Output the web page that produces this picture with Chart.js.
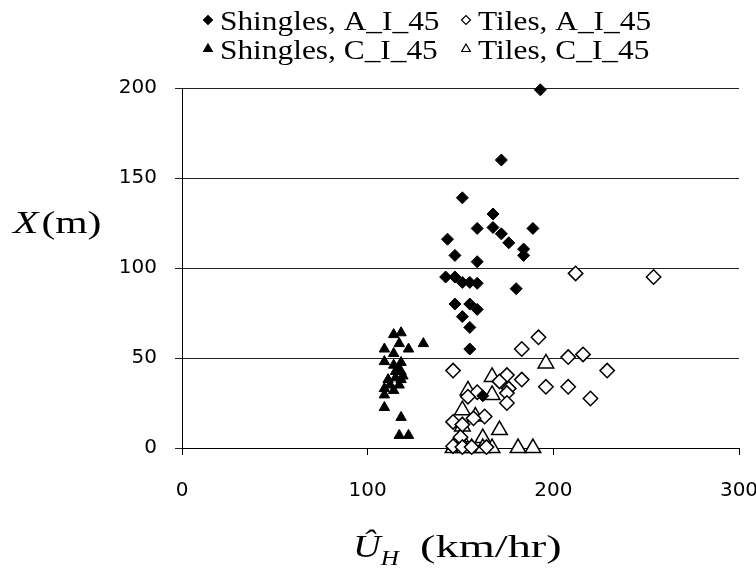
<!DOCTYPE html>
<html>
<head>
<meta charset="utf-8">
<script src="https://cdn.jsdelivr.net/npm/chart.js@4.4.1/dist/chart.umd.min.js"></script>
<style>
  html, body { margin:0; padding:0; background:#fff; }
  #wrap { width:756px; height:568px; }
</style>
</head>
<body>
<div id="wrap"><canvas id="c" width="756" height="568"></canvas></div>
<script>
/* ---- data (U_H in km/hr, X in m) ---- */
const xTicks = [0, 100, 200, 300];
const yTicks = [0, 50, 100, 150, 200];

// Shingles, A_I_45 (filled diamonds)
const shinglesA_u = [193, 172, 151, 167.5, 159, 167.5, 172, 189, 143, 176, 184, 184, 147, 159, 142, 147, 151, 155, 159, 180, 147, 155, 159, 151, 155, 155, 162];
const shinglesA_x = [199, 160, 139, 130, 122, 122.5, 119, 122, 116, 114, 110.5, 107, 107, 103.5, 95, 95, 92, 92, 91.5, 88.5, 80, 80, 77, 73, 67, 55, 29];

// Tiles, A_I_45 (open diamonds)
const tilesA_u = [146, 183, 192, 175, 183, 196, 171, 176, 175, 175, 159, 154, 163, 146, 151, 157, 150, 146, 151, 156, 164, 212, 254, 208, 216, 229, 208, 220];
const tilesA_x = [43, 55, 61.5, 40.5, 38, 34, 37, 33, 30.5, 25, 31, 28.5, 17.5, 14.5, 13, 16.5, 6, 1, 0.5, 0.5, 0.5, 97, 95, 50.5, 52, 43, 34, 27.5];

// Shingles, C_I_45 (filled triangles)
const shinglesC_u = [114, 118, 117, 122, 130, 109, 114, 109, 118, 114, 115, 118, 115, 118, 112, 117, 109, 114, 109, 109, 118, 117, 122, 119, 116, 111];
const shinglesC_x = [63, 64, 58, 55, 58, 55, 52.5, 48, 47.5, 46, 42.5, 42.5, 39, 38, 35, 35, 33, 32, 29.5, 22.5, 17, 7, 7, 40, 44, 38];

// Tiles, C_I_45 (open triangles)
const tilesC_u = [196, 167, 167, 154, 151, 158, 171, 151, 162, 150, 146, 152, 156, 162, 167, 181, 189];
const tilesC_x = [47, 39.5, 29.5, 32, 21, 17.5, 10, 12, 5.5, 6, 0, 0, 0, 0, 0, 0, 0];

const seriesLabels = ['Shingles, A_I_45', 'Tiles, A_I_45', 'Shingles, C_I_45', 'Tiles, C_I_45'];

const pts = (us, xs) => us.map((u, i) => ({ x: u, y: xs[i] }));

// text in the original is a bit wide, so stretch it horizontally
function wideText(ctx, str, x, y, sx){
  ctx.save();
  ctx.translate(x, y);
  ctx.scale(sx, 1);
  ctx.fillText(str, 0, 0);
  const w = ctx.measureText(str).width * sx;
  ctx.restore();
  return w;
}

// legend + axis titles drawn by hand (mixed italic / sub-script)
const refText = {
  id: 'refText',
  afterDraw(chart){
    const ctx = chart.ctx;
    const H = Chart.helpers;
    ctx.save();
    ctx.textBaseline = 'alphabetic';
    ctx.textAlign = 'left';

    // legend, 2 x 2
    const cols = [208, 466], rows = [20, 49];
    chart.data.datasets.forEach((ds, k)=>{
      const cx = cols[k % 2], cy = rows[Math.floor(k / 2)];
      ctx.fillStyle = ds.backgroundColor;
      ctx.strokeStyle = '#000';
      ctx.lineWidth = 1.2;
      H.drawPoint(ctx, { pointStyle: ds.pointStyle, radius: ds.pointStyle === 'triangle' ? 5 : 4.5, rotation: 0, borderWidth: 1.2 }, cx, cy);
      ctx.fillStyle = '#000';
      ctx.font = '28px "Liberation Serif"';
      wideText(ctx, ds.label, cx + 12, cy + 10, 1.12);
    });

    ctx.fillStyle = '#000';
    // y title: X (m)
    ctx.font = 'italic 32px "Liberation Serif"';
    let w = wideText(ctx, 'X', 13, 233, 1.3);
    ctx.font = '32px "Liberation Serif"';
    wideText(ctx, '(m)', 13 + w + 3, 233, 1.3);

    // x title: U^_H (km/hr)
    ctx.font = 'italic 32px "Liberation Serif"';
    w = wideText(ctx, '\u00DB', 353, 557, 1.2);
    ctx.font = 'italic 21px "Liberation Serif"';
    wideText(ctx, 'H', 353 + w, 565, 1.2);
    ctx.font = '32px "Liberation Serif"';
    wideText(ctx, '(km/hr)', 420, 557, 1.45);
    ctx.restore();
  }
};

const tickFont = { family: 'DejaVu Sans', size: 20 };

new Chart(document.getElementById('c'), {
  type: 'scatter',
  data: {
    datasets: [
      { label: seriesLabels[0], data: pts(shinglesA_u, shinglesA_x), pointStyle: 'rectRot', pointRadius: 6,
        backgroundColor: '#000', borderColor: '#000', borderWidth: 1 },
      { label: seriesLabels[1], data: pts(tilesA_u, tilesA_x), pointStyle: 'rectRot', pointRadius: 7.2,
        backgroundColor: '#fff', borderColor: '#000', borderWidth: 1.5 },
      { label: seriesLabels[2], data: pts(shinglesC_u, shinglesC_x), pointStyle: 'triangle', pointRadius: 6,
        backgroundColor: '#000', borderColor: '#000', borderWidth: 1 },
      { label: seriesLabels[3], data: pts(tilesC_u, tilesC_x), pointStyle: 'triangle', pointRadius: 9,
        backgroundColor: '#fff', borderColor: '#000', borderWidth: 1.5 }
    ]
  },
  options: {
    responsive: false,
    animation: false,
    clip: false,
    layout: { padding: { left: 0, right: 17, top: 88, bottom: 0 } },
    plugins: { legend: { display: false }, tooltip: { enabled: false } },
    scales: {
      x: {
        type: 'linear', min: xTicks[0], max: xTicks[xTicks.length - 1],
        afterFit: s => { s.height = 120; s.paddingLeft = 0; s.paddingRight = 0; },
        afterBuildTicks: s => { s.ticks = xTicks.map(v => ({ value: v })); },
        ticks: { color: '#000', font: tickFont, padding: 24, maxRotation: 0 },
        grid: { drawOnChartArea: false, drawTicks: true, tickLength: 7, color: '#000' },
        border: { color: '#000', width: 1 }
      },
      y: {
        type: 'linear', min: yTicks[0], max: yTicks[yTicks.length - 1],
        afterFit: s => { s.width = 182; },
        afterBuildTicks: s => { s.ticks = yTicks.map(v => ({ value: v })); },
        ticks: { color: '#000', font: tickFont, padding: 18 },
        grid: { color: '#222', lineWidth: 1, tickLength: 7 },
        border: { color: '#000', width: 1 }
      }
    }
  },
  plugins: [refText]
});
</script>
</body>
</html>
